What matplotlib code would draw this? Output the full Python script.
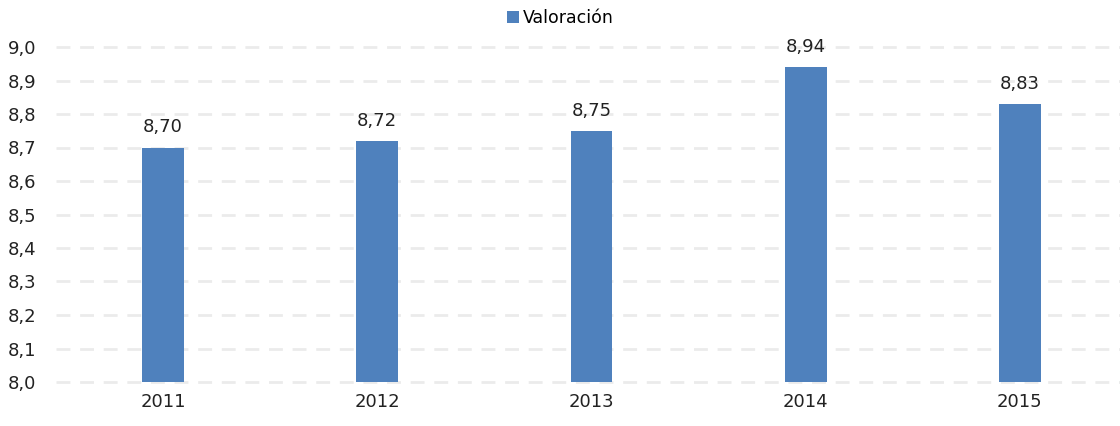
import matplotlib.pyplot as plt

anos = ["2011", "2012", "2013", "2014", "2015"]
valoracion = [8.70, 8.72, 8.75, 8.94, 8.83]
yticks = [8.0, 8.1, 8.2, 8.3, 8.4, 8.5, 8.6, 8.7, 8.8, 8.9, 9.0]

fig = plt.figure(figsize=(11.2, 4.26), dpi=100)
ax = fig.add_axes([56 / 1120, 1 - 382 / 426, 1 - 56 / 1120, (382 - 47) / 426])

x = range(len(anos))
barras = ax.bar(x, [v - 8.0 for v in valoracion], bottom=8.0, width=0.196,
                color="#4F81BD", label="Valoración", zorder=3)

for xi, v in zip(x, valoracion):
    ax.text(xi, v + 0.033, f"{v:.2f}".replace(".", ","), ha="center", va="bottom",
            fontsize=13, color="#222222")

ax.set_ylim(8.0, 9.0)
ax.set_xlim(-0.5, 4.5 - 7 / 214.3)
ax.set_yticks(yticks)
ax.set_yticklabels([f"{t:.1f}".replace(".", ",") for t in yticks])
ax.set_xticks(list(x))
ax.set_xticklabels(anos)
ax.tick_params(length=0, labelsize=13, colors="#222222", pad=8)
ax.tick_params(axis="y", pad=14)

ax.grid(axis="y", color="#EBEBEB", linestyle=(0, (5, 3.5)), linewidth=2, zorder=0)
for linea in ax.get_ygridlines():
    linea.set_clip_on(False)
for s in ax.spines.values():
    s.set_visible(False)

fig.legend(handles=[barras], loc="upper center", bbox_to_anchor=(0.5, 1.015),
           frameon=False, fontsize=12.5, handlelength=0.7, handleheight=0.7,
           handletextpad=0.2)

fig.savefig("out.png", dpi=100)
